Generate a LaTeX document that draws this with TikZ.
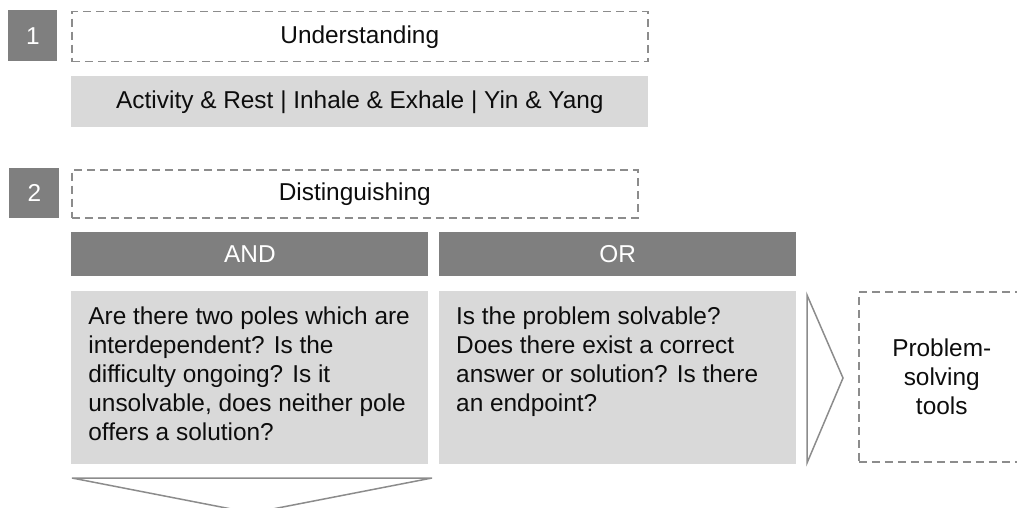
\documentclass[tikz,border=0pt]{standalone}
\usepackage{fontspec}
\setmainfont{Liberation Sans}
\usetikzlibrary{positioning}
\definecolor{headgray}{HTML}{7F7F7F}
\definecolor{panelgray}{HTML}{D9D9D9}
\definecolor{linegray}{HTML}{8C8C8C}
\definecolor{textdark}{HTML}{0D0D0D}

\begin{document}
\begin{tikzpicture}[x=0.5pt, y=-0.5pt,
    font=\fontsize{12.2}{14.5}\selectfont, text=textdark,
    numbox/.style={rectangle, fill=headgray, text=white, inner sep=0pt, anchor=north west},
    dashbox/.style={rectangle, draw=linegray, line width=0.75pt, dash pattern=on 4pt off 2.5pt, inner sep=0pt, anchor=north west},
    panel/.style={rectangle, fill=panelgray, inner sep=0pt},
    header/.style={rectangle, fill=headgray, text=white, inner sep=0pt, minimum width=178.5pt, minimum height=22pt},
    bodytext/.style={inner sep=0pt, align=left},
    chevron/.style={draw=linegray, line width=0.75pt, line join=miter}]
    \useasboundingbox (0,0) rectangle (1017,508);
    \clip (0,0) rectangle (1017,508);

    % Step 1
    \node[numbox, minimum width=24.5pt, minimum height=25.5pt] (num1) at (8,10) {1};
    \node[dashbox, minimum width=288pt, minimum height=25pt] (understand) at (71,11) {Understanding};
    \node[panel, minimum width=288.5pt, minimum height=25.5pt, anchor=north west] (pairs) at (71,76) {Activity \& Rest | Inhale \& Exhale | Yin \& Yang};

    % Step 2
    \node[numbox, minimum width=25pt, minimum height=25pt] (num2) at (9,168) {2};
    \node[dashbox, minimum width=283pt, minimum height=24pt] (distinguish) at (71,169) {Distinguishing};
    \node[header, anchor=north west] (andhead) at (71,232) {AND};
    \node[header, right=5pt of andhead] (orhead) {OR};
    \node[panel, minimum width=178.5pt, minimum height=86.5pt, below=7pt of andhead] (andbody) {};
    \node[panel, minimum width=178.5pt, minimum height=86.5pt, below=7pt of orhead] (orbody) {};
    \node[bodytext, below right=7.75pt and 8.5pt of andbody.north west] (andtext) {Are there two poles which are\\interdependent? Is the\\difficulty ongoing? Is it\\unsolvable, does neither pole\\offers a solution?};
    \node[bodytext, below right=7.75pt and 8.5pt of orbody.north west] (ortext) {Is the problem solvable?\\Does there exist a correct\\answer or solution? Is there\\an endpoint?};

    % Outcome
    \node[dashbox, minimum width=83pt, minimum height=85pt, align=center] (tools) at (858,291) {Problem-\\solving\\tools};
    \draw[chevron] (807,295) -- (843,378) -- (807,463) -- cycle;
    \draw[chevron] (72,478) -- (432,478) -- (252,513) -- cycle;
\end{tikzpicture}
\end{document}
